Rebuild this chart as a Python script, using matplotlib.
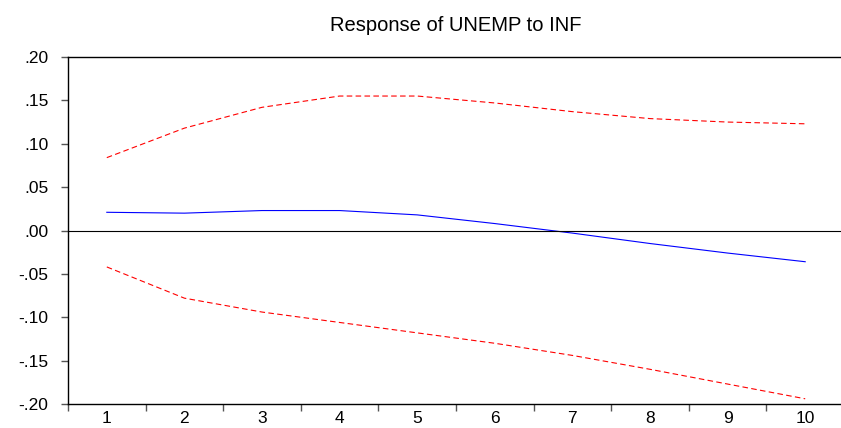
import matplotlib.pyplot as plt
import numpy as np
from matplotlib.ticker import FuncFormatter

plt.rcParams['font.family'] = ['Liberation Sans', 'DejaVu Sans']

periods = [1, 2, 3, 4, 5, 6, 7, 8, 9, 10]
response = [0.021, 0.020, 0.023, 0.023, 0.018, 0.008, -0.003, -0.015, -0.026, -0.036]
upper = [0.084, 0.118, 0.142, 0.155, 0.155, 0.147, 0.137, 0.129, 0.125, 0.123]
lower = [-0.042, -0.078, -0.094, -0.106, -0.118, -0.130, -0.144, -0.160, -0.177, -0.194]


def fmt(v, pos):
    if abs(v) < 1e-9:
        v = 0.0
    return ('%.2f' % v).replace('0.', '.', 1)


fig = plt.figure(figsize=(8.41, 4.28), dpi=100)
ax = fig.add_axes([68 / 841, 1 - 404 / 428, 776 / 841, 347 / 428])

ax.plot(periods, response, color='blue', lw=0.8)
ax.plot(periods, upper, color='red', lw=0.8, ls=(0, (5, 3)))
ax.plot(periods, lower, color='red', lw=0.8, ls=(0, (5, 3)))
ax.axhline(0, color='black', lw=0.8)

ax.set_xlim(0.5, 10.5)
ax.set_ylim(-0.20, 0.20)
ax.set_yticks(np.arange(-0.20, 0.201, 0.05))
ax.yaxis.set_major_formatter(FuncFormatter(fmt))

# ticks at category edges, labels at centers
ax.set_xticks(np.arange(0.5, 10.6, 1.0))
ax.set_xticklabels([])
ax.set_xticks(periods, minor=True)
ax.set_xticklabels([str(p) for p in periods], minor=True)
ax.tick_params(axis='x', which='minor', length=0, labelsize=12.5, pad=5)
ax.tick_params(axis='x', which='major', length=5, width=1, color='#555555')
ax.tick_params(axis='y', length=5, width=1, labelsize=12.5, pad=9, color='#555555')

for s in ax.spines.values():
    s.set_linewidth(1.0)

ax.set_title('Response of UNEMP to INF', fontsize=14.5, pad=19)

fig.savefig('out.png', dpi=100)
